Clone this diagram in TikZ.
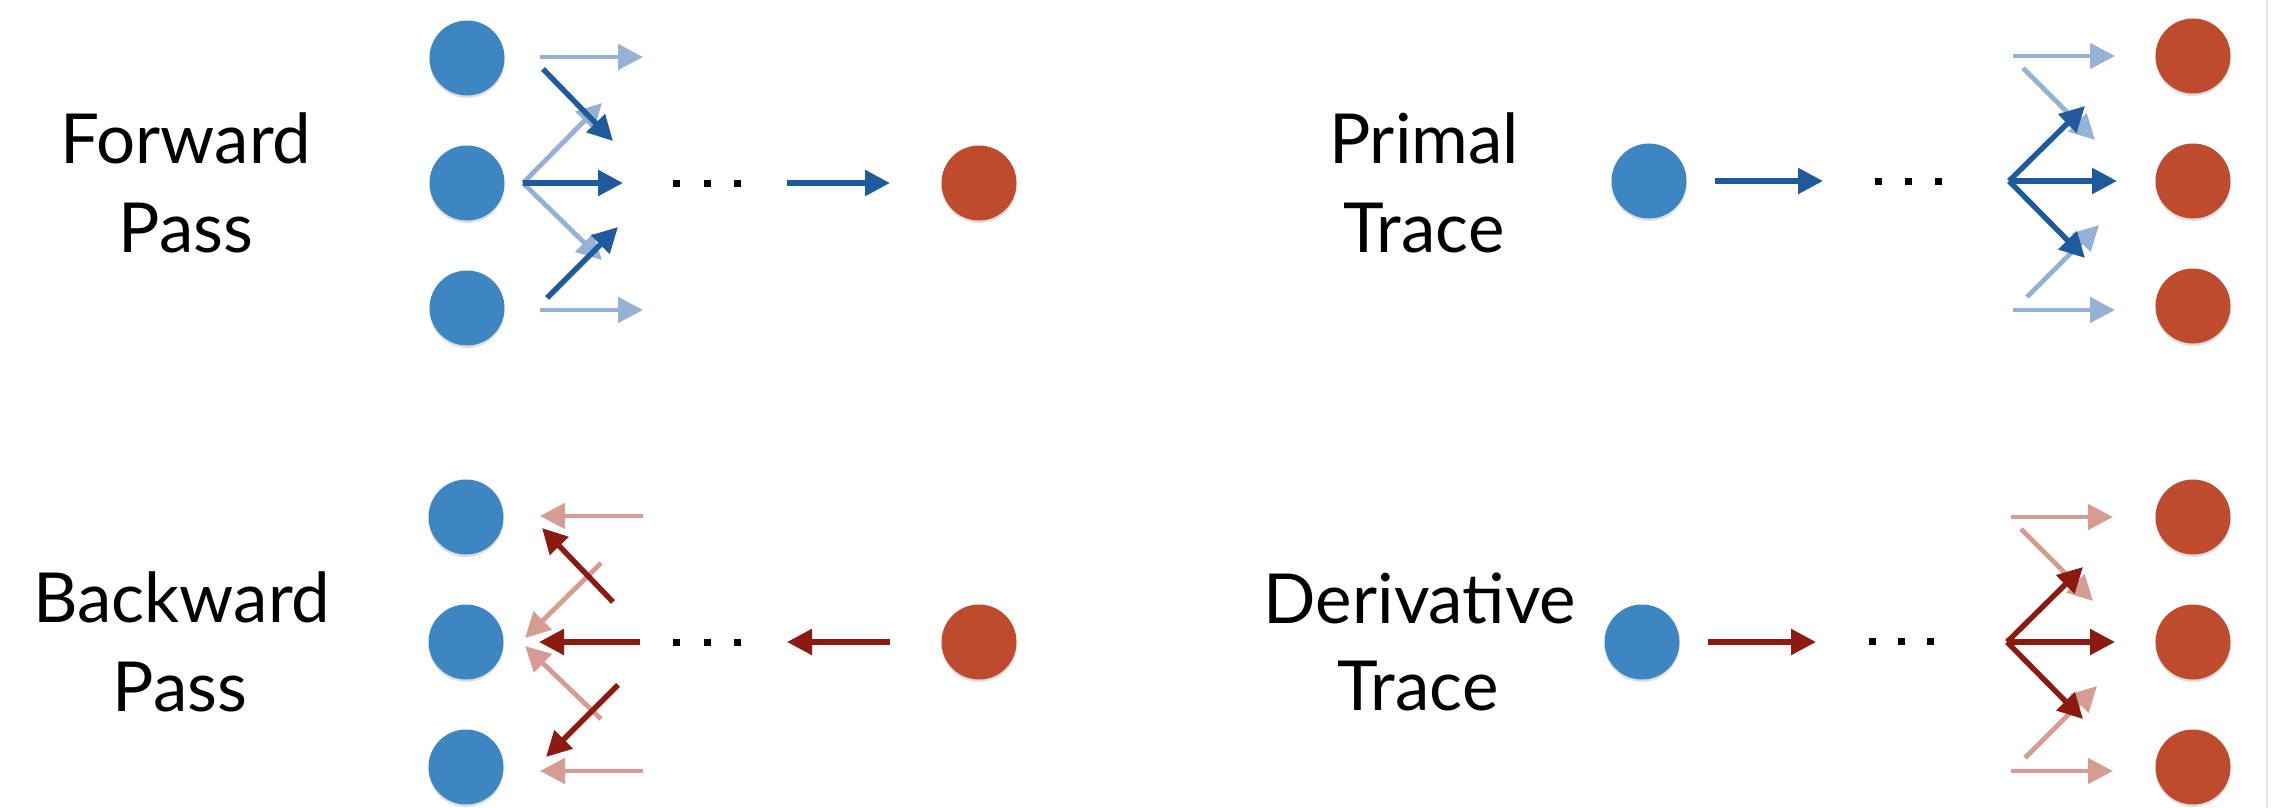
\documentclass[tikz,border=0pt]{standalone}
\usepackage{fontspec}
\setmainfont{Lato}
\usetikzlibrary{arrows.meta}

\definecolor{nodeblue}{HTML}{3D86C1}
\definecolor{nodered}{HTML}{BE4B2E}
\definecolor{arrblue}{HTML}{1E5A9C}
\definecolor{arrbluelt}{HTML}{95B1D4}
\definecolor{arrred}{HTML}{8C1A10}
\definecolor{arrredlt}{HTML}{D69C94}
\definecolor{edgegray}{HTML}{E6E6E6}

\tikzset{
  ball/.style={circle, minimum size=75pt, inner sep=0pt,
    preaction={fill=black, opacity=0.13, transform canvas={yshift=-2.5pt}}},
  inball/.style={ball, fill=nodeblue},
  outball/.style={ball, fill=nodered},
  dotbox/.style={rectangle, fill=black, minimum size=7pt, inner sep=0pt},
  lbl/.style={anchor=base, inner sep=0pt, font=\fontsize{69}{80}\selectfont},
  tip/.style={-{Triangle[length=25pt,width=25pt]}},
  fwdark/.style={tip, draw=arrblue, line width=5.4pt},
  fwlight/.style={tip, draw=arrbluelt, line width=4.8pt},
  bwdark/.style={tip, draw=arrred, line width=5.4pt},
  bwlight/.style={tip, draw=arrredlt, line width=4.8pt},
}

\begin{document}
\begin{tikzpicture}[x=1pt, y=-1pt]
\useasboundingbox (0,0) rectangle (2279,808);
\fill[white] (0,0) rectangle (2279,808);
\draw[edgegray, line width=1.5pt] (2267,0) -- (2267,808);

% ---------------- Forward pass ----------------
\node[lbl] (fwdA) at (186,163) {Forward};
\node[lbl] (fwdB) at (186,252) {Pass};
\node[inball] (fa) at (467,58) {};
\node[inball] (fb) at (467,183) {};
\node[inball] (fc) at (467,308) {};
\node[outball] (fr) at (979,183) {};
\node[dotbox] (fd1) at (676,183) {};
\node[dotbox] (fd2) at (707,183) {};
\node[dotbox] (fd3) at (737,183) {};
\coordinate (fo) at (523,183);
\coordinate (f1s) at (540,57);  \coordinate (f1e) at (643,57);
\coordinate (f2s) at (540,310); \coordinate (f2e) at (643,310);
\coordinate (f3e) at (602,103); \coordinate (f4e) at (602,260);
\coordinate (f5e) at (623,183);
\coordinate (f6s) at (543,69);  \coordinate (f6e) at (613,141);
\coordinate (f7s) at (547,298); \coordinate (f7e) at (618,227);
\coordinate (f8s) at (787,183); \coordinate (f8e) at (890,183);
\draw[fwlight] (f1s) -- (f1e);
\draw[fwlight] (f2s) -- (f2e);
\draw[fwlight] (fo) -- (f3e);
\draw[fwlight] (fo) -- (f4e);
\draw[fwdark] (fo) -- (f5e);
\draw[fwdark] (f6s) -- (f6e);
\draw[fwdark] (f7s) -- (f7e);
\draw[fwdark] (f8s) -- (f8e);

% ---------------- Primal trace ----------------
\node[lbl] (priA) at (1424,163) {Primal};
\node[lbl] (priB) at (1424,252) {Trace};
\node[inball] (pb) at (1649,181) {};
\node[outball] (pa) at (2193,56) {};
\node[outball] (pm) at (2193,181) {};
\node[outball] (pc) at (2193,306) {};
\node[dotbox] (pd1) at (1878,181) {};
\node[dotbox] (pd2) at (1908,181) {};
\node[dotbox] (pd3) at (1938,181) {};
\coordinate (po) at (2009,181);
\coordinate (p1s) at (1715,181); \coordinate (p1e) at (1823,181);
\coordinate (p2s) at (2013,56);  \coordinate (p2e) at (2115,56);
\coordinate (p3s) at (2013,310); \coordinate (p3e) at (2115,310);
\coordinate (p4s) at (2023,68);  \coordinate (p4e) at (2095,140);
\coordinate (p5s) at (2027,297); \coordinate (p5e) at (2099,225);
\coordinate (p6e) at (2117,181);
\coordinate (p7e) at (2085,106);
\coordinate (p8e) at (2085,258);
\draw[fwdark] (p1s) -- (p1e);
\draw[fwlight] (p2s) -- (p2e);
\draw[fwlight] (p3s) -- (p3e);
\draw[fwlight] (p4s) -- (p4e);
\draw[fwlight] (p5s) -- (p5e);
\draw[fwdark] (po) -- (p6e);
\draw[fwdark] (po) -- (p7e);
\draw[fwdark] (po) -- (p8e);

% ---------------- Backward pass ----------------
\node[lbl] (bwdA) at (182,622) {Backward};
\node[lbl] (bwdB) at (180,711) {Pass};
\node[inball] (ba) at (466,517) {};
\node[inball] (bb) at (466,642) {};
\node[inball] (bc) at (466,767) {};
\node[outball] (br) at (979,642) {};
\node[dotbox] (bd1) at (676,642) {};
\node[dotbox] (bd2) at (707,642) {};
\node[dotbox] (bd3) at (737,642) {};
\coordinate (b1s) at (643,516); \coordinate (b1e) at (540,516);
\coordinate (b2s) at (643,771); \coordinate (b2e) at (540,771);
\coordinate (b3s) at (601,563); \coordinate (b3e) at (525,638);
\coordinate (b4s) at (601,719); \coordinate (b4e) at (525,646);
\coordinate (b5s) at (640,642); \coordinate (b5e) at (539,642);
\coordinate (b6s) at (613,602); \coordinate (b6e) at (542,528);
\coordinate (b7s) at (618,685); \coordinate (b7e) at (546,757);
\coordinate (b8s) at (890,642); \coordinate (b8e) at (787,642);
\draw[bwlight] (b1s) -- (b1e);
\draw[bwlight] (b2s) -- (b2e);
\draw[bwlight] (b3s) -- (b3e);
\draw[bwlight] (b4s) -- (b4e);
\draw[bwdark] (b5s) -- (b5e);
\draw[bwdark] (b6s) -- (b6e);
\draw[bwdark] (b7s) -- (b7e);
\draw[bwdark] (b8s) -- (b8e);

% ---------------- Derivative trace ----------------
\node[lbl] (derA) at (1420,623) {Derivative};
\node[lbl] (derB) at (1418,710) {Trace};
\node[inball] (db) at (1642,642) {};
\node[outball] (da) at (2193,517) {};
\node[outball] (dm) at (2193,642) {};
\node[outball] (dc) at (2193,767) {};
\node[dotbox] (dd1) at (1872,641) {};
\node[dotbox] (dd2) at (1901,641) {};
\node[dotbox] (dd3) at (1930,641) {};
\coordinate (do) at (2007,642);
\coordinate (d1s) at (1708,642); \coordinate (d1e) at (1816,642);
\coordinate (d2s) at (2011,517); \coordinate (d2e) at (2113,517);
\coordinate (d3s) at (2011,771); \coordinate (d3e) at (2113,771);
\coordinate (d4s) at (2021,529); \coordinate (d4e) at (2093,601);
\coordinate (d5s) at (2025,758); \coordinate (d5e) at (2097,686);
\coordinate (d6e) at (2115,642);
\coordinate (d7e) at (2083,567);
\coordinate (d8e) at (2083,719);
\draw[bwdark] (d1s) -- (d1e);
\draw[bwlight] (d2s) -- (d2e);
\draw[bwlight] (d3s) -- (d3e);
\draw[bwlight] (d4s) -- (d4e);
\draw[bwlight] (d5s) -- (d5e);
\draw[bwdark] (do) -- (d6e);
\draw[bwdark] (do) -- (d7e);
\draw[bwdark] (do) -- (d8e);
\end{tikzpicture}
\end{document}
